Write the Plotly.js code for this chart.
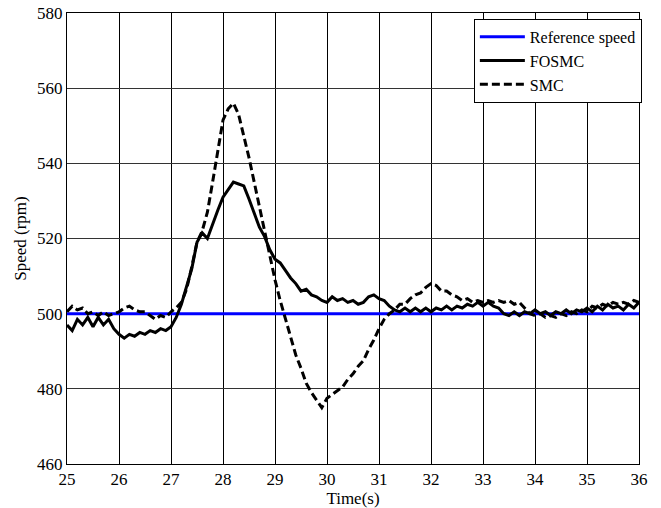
<!DOCTYPE html>
<html>
<head>
<meta charset="utf-8">
<script src="https://cdn.plot.ly/plotly-3.0.1.min.js"></script>
<style>html,body{margin:0;padding:0;background:#fff;}#chart{width:661px;height:508px;}</style>
</head>
<body>
<div id="chart"></div>
<script>
const timeS = [25.0,25.1,25.2,25.3,25.4,25.5,25.6,25.7,25.8,25.9,
  26.0,26.1,26.2,26.3,26.4,26.5,26.6,26.7,26.8,26.9,
  27.0,27.1,27.2,27.3,27.4,27.5,27.6,27.7,27.8,27.9,
  28.0,28.1,28.2,28.3,28.4,28.5,28.6,28.7,28.8,28.9,
  29.0,29.1,29.2,29.3,29.4,29.5,29.6,29.7,29.8,29.9,
  30.0,30.1,30.2,30.3,30.4,30.5,30.6,30.7,30.8,30.9,
  31.0,31.1,31.2,31.3,31.4,31.5,31.6,31.7,31.8,31.9,
  32.0,32.1,32.2,32.3,32.4,32.5,32.6,32.7,32.8,32.9,
  33.0,33.1,33.2,33.3,33.4,33.5,33.6,33.7,33.8,33.9,
  34.0,34.1,34.2,34.3,34.4,34.5,34.6,34.7,34.8,34.9,
  35.0,35.1,35.2,35.3,35.4,35.5,35.6,35.7,35.8,35.9,36.0];

const fosmc = [497,495.5,498.5,497,499,496.5,499,497,498.5,496,
  494.5,493.5,494.5,494,495,494.5,495.5,495,496,495.5,
  496.5,499,502.5,507,512,519,521.5,520,524,527.5,
  531,533,535,534.5,534,530.5,527,523,520.5,517,
  514.5,513.5,511.5,509.5,508,506,506.5,505,504.5,503.5,
  503,504.5,503.5,504,503,503.5,502.5,503,504.5,505,
  504,503.5,502,501,500.5,501.5,500.5,501.5,500.5,501.5,
  500.5,501.5,501,502,501,502,501.5,502.5,502,503,
  502,503,502,501.5,500,499.5,500.5,499.5,500.5,500,
  501,500,500.5,499.5,500.5,500,501,500,501,500.5,
  501.5,500.5,502,501,502.5,501.5,502,501,502.5,501.5,503];

const smc = [500.5,502,501,501.5,500,500.5,499.5,500.5,499.5,500,
  500.5,501.5,502,501,500.5,500.5,499.5,498.5,499.5,499,
  500.5,501.5,503,506.5,512.5,519,522,527,535,543,
  551.5,554.5,556,553,547.5,541.5,535,528.5,522,516,
  509,503.5,498.5,493.5,489,485.5,481.5,479,477,475,
  477.5,478.5,479.5,480.5,482.5,484,486,487.5,490.5,493,
  496,498.5,500,501,502.5,502.5,504,505,505.5,507,
  508,507.5,506,506,505,504.5,503.5,504,503,503.5,
  503,503.5,503,503.5,503,503.5,502.5,503,501.5,500,
  499.5,500,499,499.5,499,500,499.5,500.5,500,501,
  500.5,502,501.5,502.5,502,503,502.5,503,502.5,503.5,503];

const refTime = [25, 36];
const refSpeed = [500, 500];

const seriesNames = ['Reference speed', 'FOSMC', 'SMC'];
const xTicks = [25,26,27,28,29,30,31,32,33,34,35,36];
const yTicks = [460,480,500,520,540,560,580];

const serif = "'Liberation Serif', 'Times New Roman', Times, serif";

const traces = [
  {x: refTime, y: refSpeed, name: seriesNames[0], mode: 'lines',
   line: {color: '#0000ff', width: 3}},
  {x: timeS, y: fosmc, name: seriesNames[1], mode: 'lines',
   line: {color: '#000000', width: 3}},
  {x: timeS, y: smc, name: seriesNames[2], mode: 'lines',
   line: {color: '#000000', width: 3, dash: '8px,4px'}}
];

const layout = {
  width: 661, height: 508,
  margin: {l: 67, r: 22, t: 13, b: 44},
  paper_bgcolor: '#ffffff', plot_bgcolor: '#ffffff',
  font: {family: serif, size: 17, color: '#000'},
  showlegend: true,
  legend: {x: 1.005, xanchor: 'right', y: 0.987, yanchor: 'top',
    bgcolor: '#ffffff', bordercolor: '#000', borderwidth: 1,
    itemwidth: 45,
    font: {family: serif, size: 16, color: '#000'}},
  xaxis: {range: [25, 36], tickvals: xTicks, ticktext: xTicks.map(String),
    showgrid: true, gridcolor: '#000', gridwidth: 1,
    showline: true, mirror: true, linecolor: '#000', linewidth: 1,
    ticks: '', zeroline: false, automargin: false,
    tickfont: {family: serif, size: 17, color: '#000'},
    title: {text: 'Time(s)', standoff: 4, font: {family: serif, size: 17, color: '#000'}}},
  yaxis: {range: [460, 580], tickvals: yTicks, ticktext: yTicks.map(String),
    showgrid: true, gridcolor: '#333', gridwidth: 1,
    showline: true, mirror: true, linecolor: '#000', linewidth: 1,
    ticks: '', zeroline: false, automargin: false,
    tickfont: {family: serif, size: 17, color: '#000'},
    title: {text: 'Speed (rpm)', standoff: 6, font: {family: serif, size: 17, color: '#000'}}}
};

Plotly.newPlot('chart', traces, layout, {displayModeBar: false, staticPlot: true});
</script>
</body>
</html>
